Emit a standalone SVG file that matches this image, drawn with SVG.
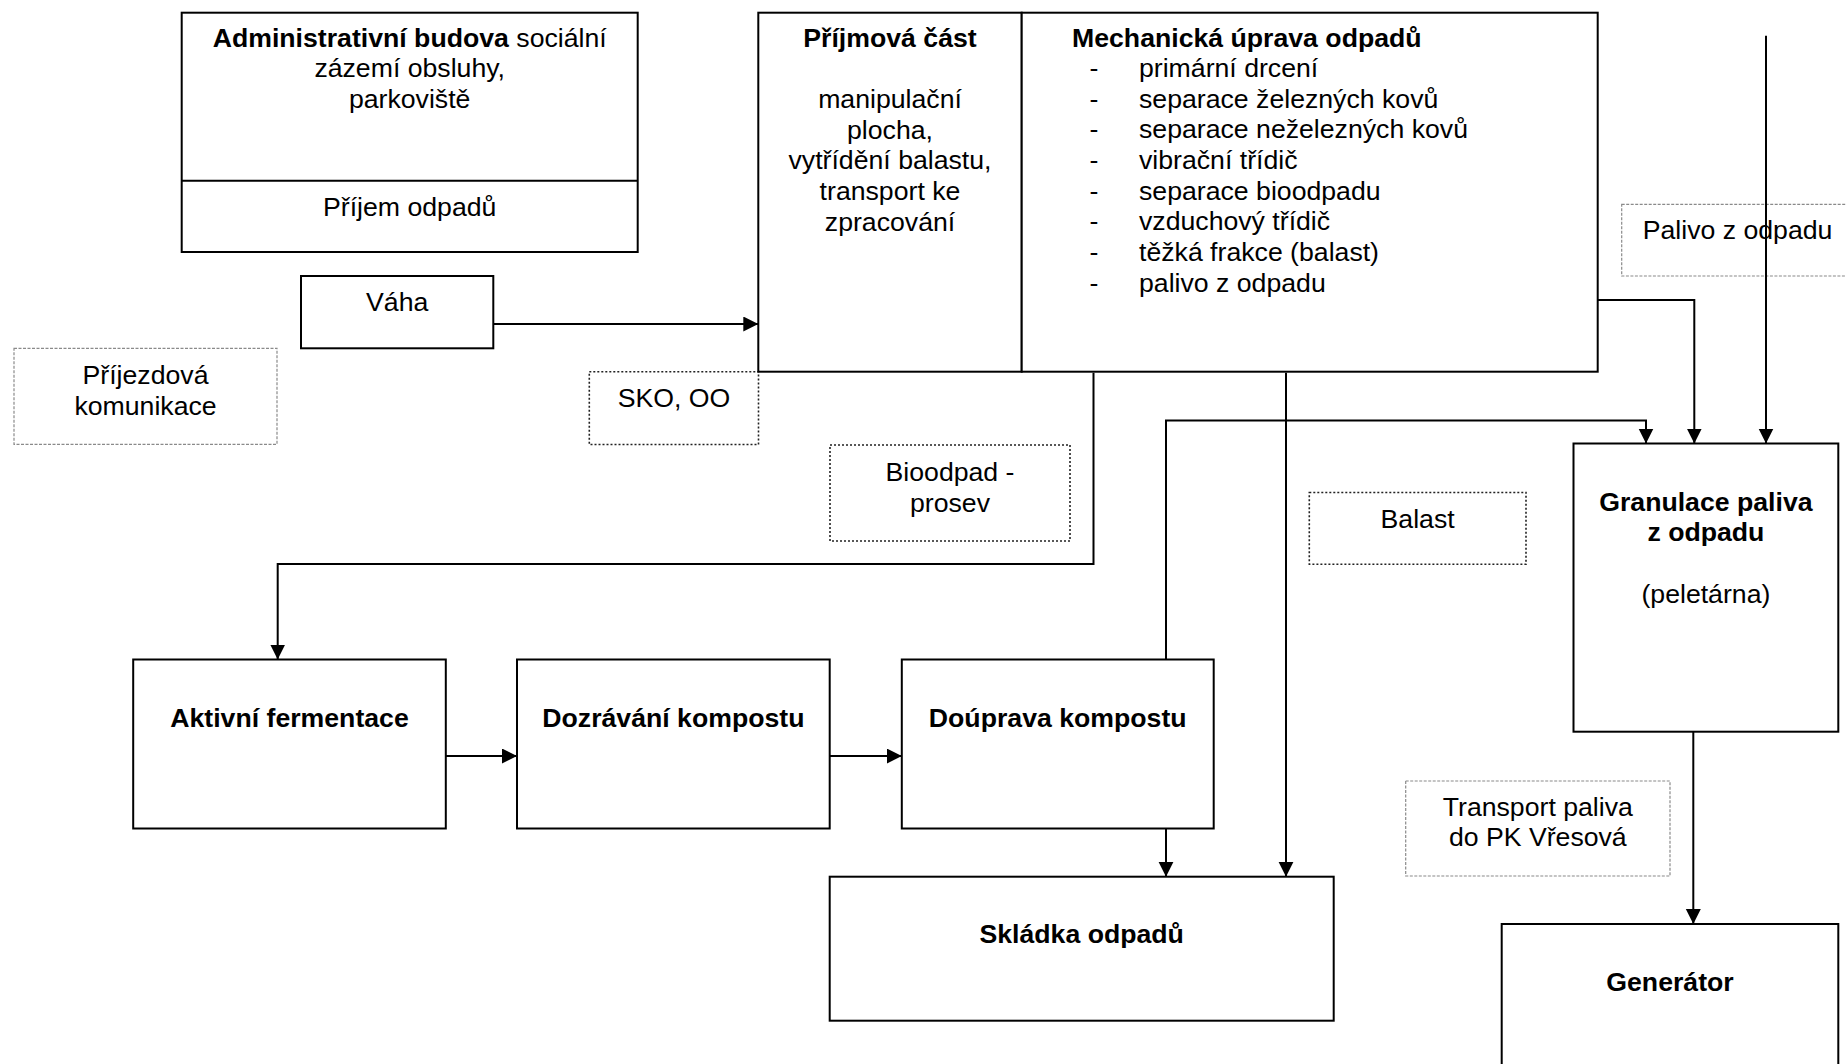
<svg xmlns="http://www.w3.org/2000/svg" width="1846" height="1064" viewBox="0 0 1846 1064">
<style>
.box{fill:#fff;stroke:#000;stroke-width:2}
.dot{fill:none;stroke:#222;stroke-width:1.6;stroke-dasharray:2 2}
.dash{fill:none;stroke:#8a8a8a;stroke-width:1.2;stroke-dasharray:3 1.5}
text{font-family:"Liberation Sans",Arial,Helvetica,sans-serif;font-size:26.67px;fill:#000}
.c{text-anchor:middle}
.b{font-weight:bold}
.conn path{fill:none;stroke:#000;stroke-width:2;marker-end:url(#ah)}
</style>
<defs>
<marker id="ah" markerUnits="userSpaceOnUse" markerWidth="16" markerHeight="16" refX="15" refY="7.5" orient="auto">
<path d="M0,0 L15,7.5 L0,15 z" fill="#000"/>
</marker>
</defs>
<rect width="1846" height="1064" fill="#fff"/>

<g id="admin">
<rect class="box" x="181.7" y="12.7" width="456" height="239.3"/>
<line x1="181.7" y1="180.7" x2="637.7" y2="180.7" stroke="#000" stroke-width="2"/>
<text class="c" x="409.7" y="46.5"><tspan class="b">Administrativní budova</tspan> sociální</text>
<text class="c" x="409.7" y="77.2">zázemí obsluhy,</text>
<text class="c" x="409.7" y="107.9">parkoviště</text>
<text class="c" x="409.7" y="216">Příjem odpadů</text>
</g>

<g id="vaha">
<rect class="box" x="301" y="276" width="192.3" height="72.3"/>
<text class="c" x="397.2" y="310.5">Váha</text>
</g>

<g id="prijezd">
<rect class="dash" x="14" y="348.3" width="263" height="96"/>
<text class="c" x="145.5" y="384">Příjezdová</text>
<text class="c" x="145.5" y="414.5">komunikace</text>
</g>

<g id="sko">
<rect class="dot" x="589.3" y="371.7" width="169.2" height="72.8"/>
<text class="c" x="674" y="406.7">SKO, OO</text>
</g>

<g id="bioodpad">
<rect class="dot" x="830" y="445" width="240" height="96"/>
<text class="c" x="950" y="481">Bioodpad -</text>
<text class="c" x="950" y="511.7">prosev</text>
</g>

<g id="prijmova">
<rect class="box" x="758.3" y="12.7" width="263.4" height="359"/>
<text class="c b" x="890" y="46.7">Příjmová část</text>
<text class="c" x="890" y="108">manipulační</text>
<text class="c" x="890" y="138.7">plocha,</text>
<text class="c" x="890" y="169.3">vytřídění balastu,</text>
<text class="c" x="890" y="200">transport ke</text>
<text class="c" x="890" y="230.7">zpracování</text>
</g>

<g id="mechanicka">
<rect class="box" x="1021.7" y="12.7" width="576" height="359"/>
<text class="b" x="1072" y="46.7">Mechanická úprava odpadů</text>
<g>
<text x="1089.5" y="77">-</text><text x="1139" y="77">primární drcení</text>
<text x="1089.5" y="107.7">-</text><text x="1139" y="107.7">separace železných kovů</text>
<text x="1089.5" y="138.3">-</text><text x="1139" y="138.3">separace neželezných kovů</text>
<text x="1089.5" y="169">-</text><text x="1139" y="169">vibrační třídič</text>
<text x="1089.5" y="199.7">-</text><text x="1139" y="199.7">separace bioodpadu</text>
<text x="1089.5" y="230.3">-</text><text x="1139" y="230.3">vzduchový třídič</text>
<text x="1089.5" y="261">-</text><text x="1139" y="261">těžká frakce (balast)</text>
<text x="1089.5" y="291.7">-</text><text x="1139" y="291.7">palivo z odpadu</text>
</g>
</g>

<g id="palivo">
<rect class="dash" x="1621.7" y="204.3" width="240" height="71.7"/>
<text x="1642.7" y="239">Palivo z odpadu</text>
</g>

<g id="balast">
<rect class="dot" x="1309.3" y="492.5" width="216.7" height="71.7"/>
<text class="c" x="1417.6" y="527.5">Balast</text>
</g>

<g id="granulace">
<rect class="box" x="1573.5" y="443.5" width="264.8" height="288.2"/>
<text class="c b" x="1705.9" y="510.5">Granulace paliva</text>
<text class="c b" x="1705.9" y="541.2">z odpadu</text>
<text class="c" x="1705.9" y="602.5">(peletárna)</text>
</g>

<g id="transport">
<rect class="dash" x="1405.7" y="781" width="264.3" height="95"/>
<text class="c" x="1537.8" y="815.5">Transport paliva</text>
<text class="c" x="1537.8" y="846.2">do PK Vřesová</text>
</g>

<g id="generator">
<rect class="box" x="1501.7" y="924" width="336.6" height="160"/>
<text class="c b" x="1670" y="991">Generátor</text>
</g>

<g id="aktivni">
<rect class="box" x="133.2" y="659.5" width="312.6" height="169"/>
<text class="c b" x="289.5" y="727">Aktivní fermentace</text>
</g>

<g id="dozravani">
<rect class="box" x="517" y="659.5" width="312.7" height="169"/>
<text class="c b" x="673.4" y="727">Dozrávání kompostu</text>
</g>

<g id="doprava">
<rect class="box" x="901.8" y="659.5" width="311.9" height="169"/>
<text class="c b" x="1057.7" y="727">Doúprava kompostu</text>
</g>

<g id="skladka">
<rect class="box" x="829.7" y="876.7" width="504" height="144"/>
<text class="c b" x="1081.7" y="943">Skládka odpadů</text>
</g>

<g id="connectors" class="conn">
<path d="M493.3,324 H758.3"/>
<path d="M1093.5,372.7 V564 H277.7 V659.5"/>
<path d="M445.8,756 H517"/>
<path d="M829.7,756 H901.8"/>
<path d="M1166,828.5 V876.7"/>
<path d="M1286,372.7 V876.7"/>
<path d="M1166,659.5 V420.5 H1646 V443.5"/>
<path d="M1597.7,300 H1694.3 V443.5"/>
<path d="M1766,35.7 V443.5"/>
<path d="M1693.3,731.7 V924"/>
</g>
</svg>
